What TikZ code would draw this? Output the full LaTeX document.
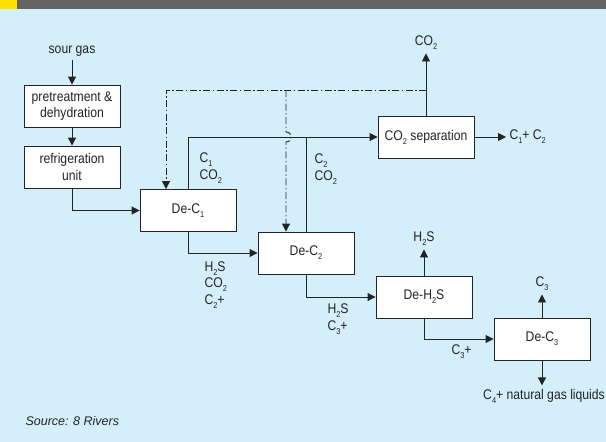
\documentclass[tikz,border=0pt]{standalone}
\usepackage{fontspec}
\setmainfont{Liberation Sans}[FakeStretch=0.87]
\newfontfamily\srcfont{Liberation Sans}
\usetikzlibrary{arrows.meta}
\definecolor{bgblue}{RGB}{212,238,250}
\definecolor{bandgrey}{RGB}{100,100,100}
\definecolor{bandyellow}{RGB}{255,224,0}
\definecolor{inkgrey}{RGB}{35,35,35}
\newcommand{\lowidx}[1]{\raisebox{-0.55ex}{\fontsize{8.5}{8.5}\selectfont #1}}

\begin{document}
\begin{tikzpicture}
    [x=1pt,y=-1pt,
     every node/.style={font=\fontsize{14}{16.5}\selectfont,text=inkgrey},
     unit/.style={draw=inkgrey,fill=white,line width=0.9pt,minimum width=96pt,minimum height=42pt,inner sep=2pt,align=center},
     pipe/.style={draw=inkgrey,line width=0.9pt},
     flow/.style={pipe,-{Triangle[length=8pt,width=8pt]}},
     recycle/.style={flow,dash pattern=on 7pt off 2.5pt on 1.5pt off 2.5pt}]
    \useasboundingbox (0,0) rectangle (606,442);
    \fill[bgblue] (0,9) rectangle (606,442);
    \fill[bandgrey] (0,0) rectangle (606,9);
    \fill[bandyellow] (0,0) rectangle (17,9);

    % units
    \node (sour) at (72,51) {sour gas};
    \node[unit] (pre) at (72,106) {pretreatment \&\\dehydration};
    \node[unit] (ref) at (72,167) {refrigeration\\unit};
    \node[unit] (dec1) at (188,210.5) {De-C\lowidx1};
    \node[unit] (dec2) at (306,253) {De-C\lowidx2};
    \node[unit] (co2sep) at (426,137) {CO\lowidx2 separation};
    \node[unit] (deh2s) at (424,297) {De-H\lowidx2S};
    \node[unit] (dec3) at (542,339) {De-C\lowidx3};

    % products
    \node (co2out) at (426,43) {CO\lowidx2};
    \node[anchor=west] (lights) at (506,137) {C\lowidx1+ C\lowidx2};
    \node (h2sout) at (424,239) {H\lowidx2S};
    \node (c3out) at (542,284) {C\lowidx3};
    \node[anchor=east,inner xsep=1pt] (ngl) at (606,396) {C\lowidx4+ natural gas liquids};

    % stream labels
    \node[anchor=west,align=left] (s1) at (196,168) {C\lowidx1\\CO\lowidx2};
    \node[anchor=west,align=left] (s2) at (311,169) {C\lowidx2\\CO\lowidx2};
    \node[anchor=west,align=left] (s3) at (201,285) {H\lowidx2S\\CO\lowidx2\\C\lowidx2+};
    \node[anchor=west,align=left] (s4) at (324,319) {H\lowidx2S\\C\lowidx3+};
    \node[anchor=west] (s5) at (448,352) {C\lowidx3+};

    \node[anchor=west] (src) at (22,421) {\srcfont\fontsize{12.5}{14}\selectfont\itshape Source: 8 Rivers};

    % main train
    \draw[flow] (sour) -- (pre);
    \draw[flow] (pre) -- (ref);
    \draw[flow] (ref.south) |- (dec1.west);
    \draw[flow] (dec1.south) |- (dec2.west);
    \draw[flow] (dec2.south) |- (deh2s.west);
    \draw[flow] (deh2s.south) |- (dec3.west);
    \draw[flow] (dec1.north) |- (co2sep.west);
    \draw[pipe] (dec2.north) -- (dec2.north |- co2sep.west);
    \draw[flow] (co2sep) -- (lights);
    \draw[flow] (dec3.south) -- (dec3.south |- ngl.north);

    \foreach \a/\b in {co2sep/co2out,deh2s/h2sout,dec3/c3out}
        \draw[flow] (\a) -- (\b);

    % CO2 recycle
    \coordinate (recy) at (co2sep.north |- 0,90);
    \coordinate (split) at (286,90);
    \draw[recycle] (recy) -| ([xshift=-22pt]dec1.north);
    \draw[recycle] (split) -- (286,132) .. controls (293,132) and (293,142) .. (286,142) -- ([xshift=-20pt]dec2.north);
\end{tikzpicture}
\end{document}
